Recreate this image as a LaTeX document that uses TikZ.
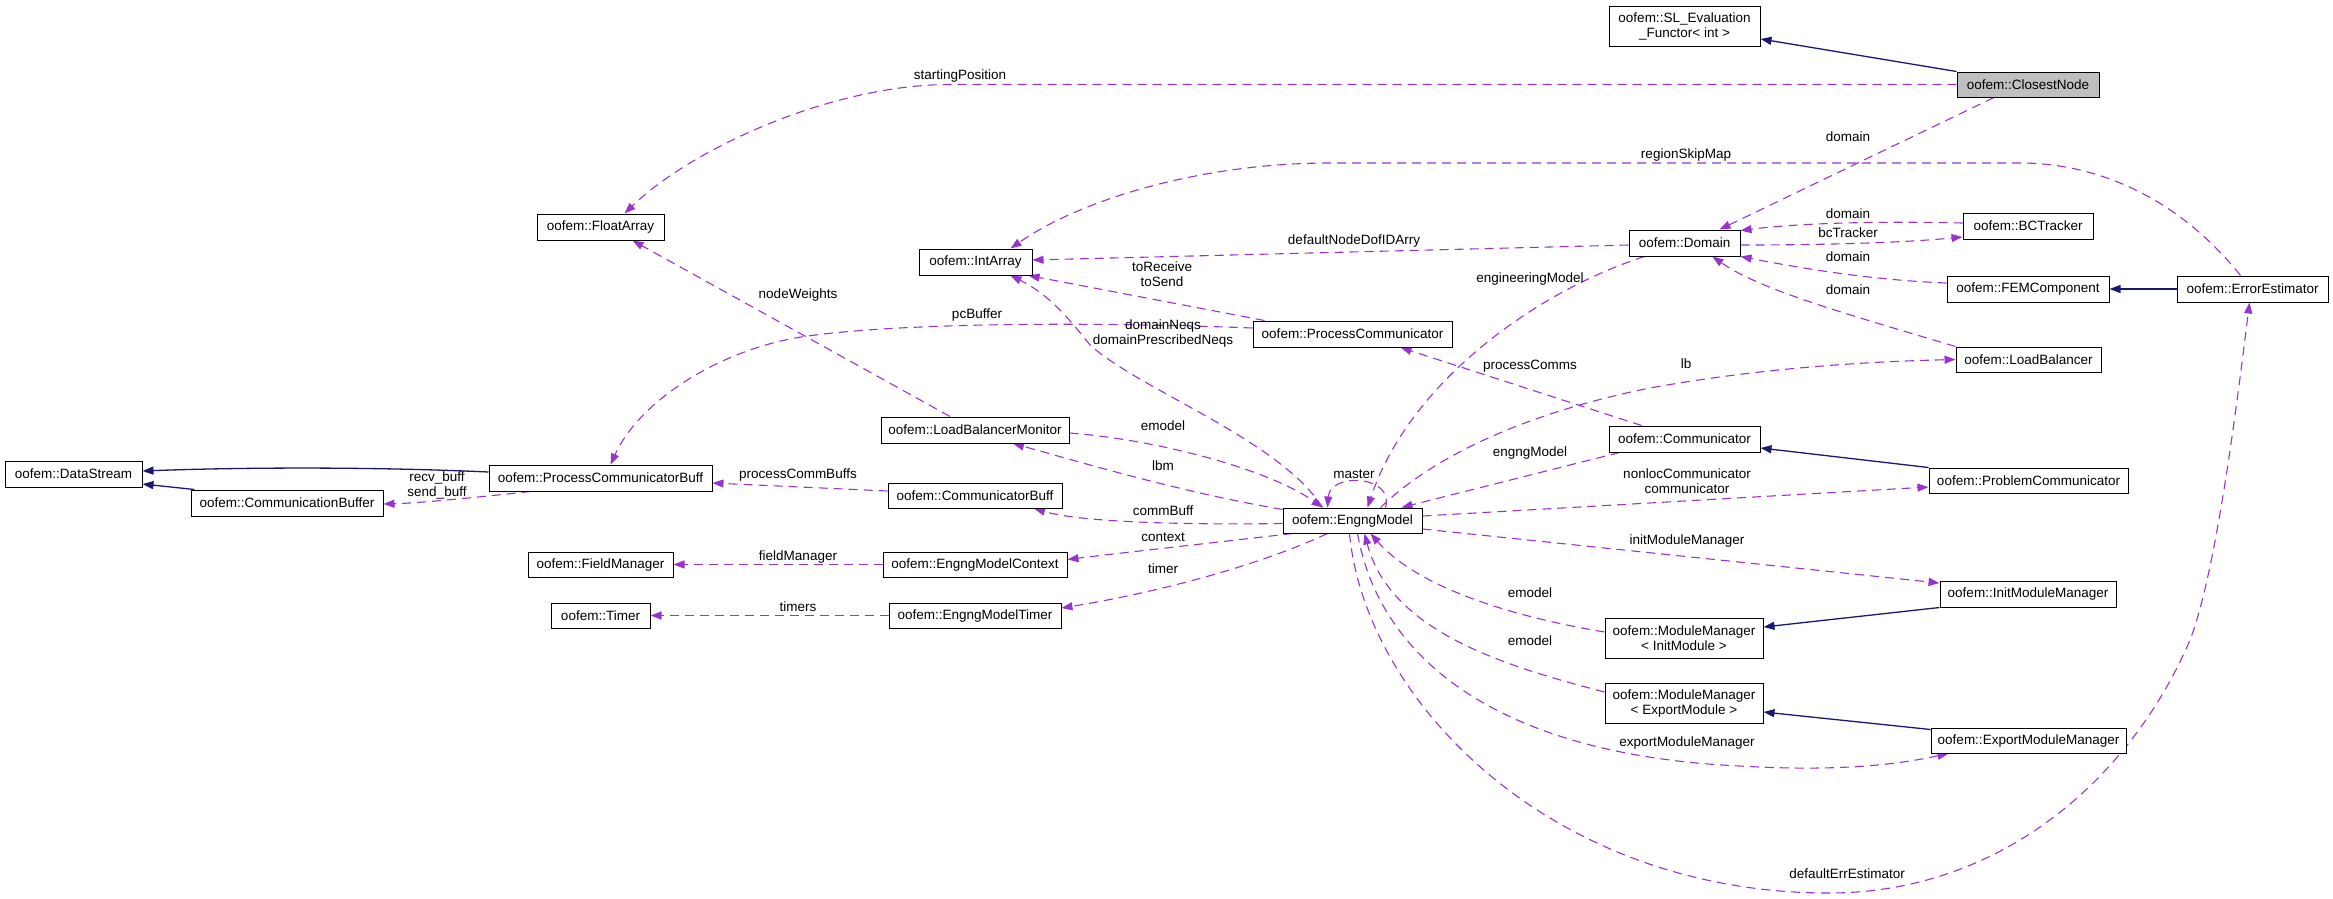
\documentclass[tikz,border=0pt]{standalone}
\usepackage{fontspec}
\setmainfont{Liberation Sans}
\usetikzlibrary{arrows.meta}
\definecolor{navy}{HTML}{191970}
\definecolor{orch}{HTML}{9A32CD}
\definecolor{boxgray}{HTML}{BFBFBF}
\pgfdeclarelayer{bg}
\pgfsetlayers{bg,main}
\begin{document}
\begin{tikzpicture}[x=1pt,y=-1pt,
  cls/.style={draw=black, line width=1pt, rectangle, inner sep=0pt, align=center, font=\fontsize{13.5}{15}\selectfont, fill=white, minimum height=26pt},
  inh/.style={draw=navy, line width=1.3pt, -{Triangle[length=11pt,width=8pt]}},
  use/.style={draw=orch, line width=1.1pt, dash pattern=on 9pt off 6pt, -{Triangle[length=11pt,width=8pt]}},
  lbl/.style={font=\fontsize{13.5}{15}\selectfont, align=center, inner sep=0pt}
]
\useasboundingbox (0,0) rectangle (2333,898);

% classes
\node[cls, minimum width=151pt, minimum height=40pt] (SLF) at (1684.5,26) {oofem::SL\_Evaluation\\\_Functor< int >};
\node[cls, fill=boxgray, minimum width=142pt, minimum height=25pt] (CN) at (2028,84.5) {oofem::ClosestNode};
\node[cls, minimum width=127pt] (FA) at (600.5,227) {oofem::FloatArray};
\node[cls, minimum width=113pt] (IA) at (975.5,262) {oofem::IntArray};
\node[cls, minimum width=111pt] (DOM) at (1684.5,243) {oofem::Domain};
\node[cls, minimum width=130pt] (BCT) at (2028,226) {oofem::BCTracker};
\node[cls, minimum width=162pt] (FEM) at (2028,289) {oofem::FEMComponent};
\node[cls, minimum width=151pt] (EE) at (2252.5,289) {oofem::ErrorEstimator};
\node[cls, minimum width=199pt] (PC) at (1352.5,334) {oofem::ProcessCommunicator};
\node[cls, minimum width=145pt, minimum height=25pt] (LB) at (2028.5,359.5) {oofem::LoadBalancer};
\node[cls, minimum width=188pt] (LBM) at (975,430) {oofem::LoadBalancerMonitor};
\node[cls, minimum width=151pt] (COMM) at (1684.5,439) {oofem::Communicator};
\node[cls, minimum width=137pt] (DS) at (73.5,474) {oofem::DataStream};
\node[cls, minimum width=223pt] (PCB) at (600.5,478) {oofem::ProcessCommunicatorBuff};
\node[cls, minimum width=192pt] (CB) at (287,503) {oofem::CommunicationBuffer};
\node[cls, minimum width=199pt, minimum height=25pt] (PRC) at (2028.5,480.5) {oofem::ProblemCommunicator};
\node[cls, minimum width=174pt, minimum height=25pt] (CBUF) at (975,495.5) {oofem::CommunicatorBuff};
\node[cls, minimum width=139pt, minimum height=25pt] (EM) at (1352.5,520.5) {oofem::EngngModel};
\node[cls, minimum width=145pt, minimum height=25pt] (FM) at (600.5,564.5) {oofem::FieldManager};
\node[cls, minimum width=184pt, minimum height=25pt] (EMC) at (975,564.5) {oofem::EngngModelContext};
\node[cls, minimum width=176pt] (IMM) at (2028,594) {oofem::InitModuleManager};
\node[cls, minimum width=99pt, minimum height=25pt] (T) at (600.5,615.5) {oofem::Timer};
\node[cls, minimum width=172pt, minimum height=25pt] (EMT) at (975,615.5) {oofem::EngngModelTimer};
\node[cls, minimum width=158pt, minimum height=40pt] (MMI) at (1684,638) {oofem::ModuleManager\\< InitModule >};
\node[cls, minimum width=158pt, minimum height=40pt] (MME) at (1684,703) {oofem::ModuleManager\\< ExportModule >};
\node[cls, minimum width=195pt, minimum height=25pt] (EMM) at (2028.5,740.5) {oofem::ExportModuleManager};

\begin{pgfonlayer}{bg}
% inheritance
\draw[inh] (CN.north west) -- ([yshift=-13pt]SLF.east);
\draw[inh] (EE.west) -- (FEM.east);
\draw[inh] (PRC.north west) -- ([yshift=-9pt]COMM.east);
\draw[inh] (IMM.south west) -- ([yshift=11pt]MMI.east);
\draw[inh] ([yshift=-2pt]EMM.north west) -- ([yshift=-9pt]MME.east);
\draw[inh] ([yshift=6pt]PCB.west) .. controls (380,467) and (250,467) .. ([yshift=3pt]DS.east);
\draw[inh] ([xshift=4pt]CB.north west) -- ([yshift=-10pt]DS.east);
% usage
\draw[use] (CN.west) -- (950,84.5) .. controls (830,84.5) and (690,150) .. ([xshift=24pt]FA.north);
\draw[use] ([xshift=-34pt]CN.south) -- ([xshift=35pt]DOM.north);
\draw[use] ([xshift=-12pt]EE.north) .. controls (2180,200) and (2100,163) .. (2020,163) -- (1330,163) .. controls (1200,163) and (1080,200) .. ([xshift=35pt]IA.north);
\draw[use] ([yshift=-2pt]DOM.west) -- ([yshift=2pt]IA.east);
\draw[use] ([yshift=3pt]BCT.west) .. controls (1880,221) and (1800,223) .. ([yshift=-1pt]DOM.north east);
\draw[use] ([yshift=-2pt]DOM.east) .. controls (1820,245) and (1900,243) .. ([yshift=-11pt]BCT.west);
\draw[use] ([yshift=6pt]FEM.west) .. controls (1870,280) and (1800,268) .. (DOM.south east);
\draw[use] (LB.north west) .. controls (1850,315) and (1760,290) .. ([xshift=28pt]DOM.south);
\draw[use] ([xshift=-40pt]DOM.south) .. controls (1540,290) and (1410,380) .. ([xshift=15pt]EM.north);
\draw[use] ([xshift=12pt]PC.north west) -- ([xshift=-4pt]IA.south east);
\draw[use] ([xshift=-30pt]EM.north) .. controls (1280,440) and (1140,390) .. (1090,345) .. controls (1070,320) and (1050,295) .. ([xshift=35pt]IA.south);
\draw[use] ([xshift=-25pt]LBM.north) -- ([xshift=32pt]FA.south);
\draw[use] ([yshift=6pt]PC.west) .. controls (1100,322) and (900,322) .. (801,337) .. controls (720,350) and (640,400) .. ([xshift=10pt]PCB.north);
\draw[use] ([yshift=-3pt]LBM.east) .. controls (1160,440) and (1270,470) .. ([xshift=-30pt]EM.north);
\draw[use] ([yshift=-2pt]EM.north west) .. controls (1180,492) and (1080,462) .. ([xshift=38pt]LBM.south);
\draw[use] ([yshift=-3pt]EM.west) .. controls (1180,525) and (1080,522) .. ([xshift=59pt]CBUF.south);
\draw[use] ([xshift=10pt]EM.south west) .. controls (1220,542) and (1120,553) .. ([yshift=5pt]EMC.east);
\draw[use] ([xshift=-25pt]EM.south) .. controls (1260,565) and (1160,592) .. ([yshift=7.5pt]EMT.east);
\draw[use] ([yshift=4.5pt]CBUF.west) -- ([yshift=-5pt]PCB.east);
\draw[use] (EMC.west) -- (FM.east);
\draw[use] (EMT.west) -- (T.east);
\draw[use] ([xshift=-70pt]PCB.south) .. controls (470,498) and (420,503) .. ([yshift=-1pt]CB.east);
\draw[use] ([xshift=-43pt]COMM.north) -- ([xshift=48pt]PC.south);
\draw[use] ([xshift=28pt]EM.north) .. controls (1440,450) and (1540,410) .. (1650,388) .. controls (1750,370) and (1850,362) .. (LB.west);
\draw[use] ([xshift=11pt]COMM.south west) -- ([xshift=-21pt]EM.north east);
\draw[use] ([yshift=4.5pt]EM.east) -- ([yshift=-6.5pt]PRC.west);
\draw[use] ([yshift=-8.5pt]EM.east) -- ([yshift=11pt]IMM.west);
\draw[use] ([yshift=6pt]MMI.west) .. controls (1520,618) and (1420,590) .. ([xshift=18pt]EM.south);
\draw[use] ([yshift=11pt]MME.west) .. controls (1500,665) and (1390,630) .. ([xshift=12pt]EM.south);
\draw[use] ([xshift=5pt]EM.south) .. controls (1380,660) and (1500,755) .. (1740,766) .. controls (1840,772) and (1900,764) .. ([xshift=18pt]EMM.south west);
\draw[use] ([xshift=-3pt]EM.south) .. controls (1365,700) and (1550,893) .. (1829,893) .. controls (2000,893) and (2130,780) .. (2190,640) .. controls (2215,575) and (2235,420) .. ([xshift=-3pt]EE.south);
\draw[use] ([xshift=33pt]EM.north) .. controls (1395,475) and (1330,472) .. ([xshift=-25pt]EM.north);
\end{pgfonlayer}

% labels
\node[lbl] (t1) at (960,76) {startingPosition};
\node[lbl] (t2) at (1848,137) {domain};
\node[lbl] (t3) at (1686,155) {regionSkipMap};
\node[lbl] (t4) at (1354,241) {defaultNodeDofIDArry};
\node[lbl] (t5) at (1848,214) {domain};
\node[lbl] (t6) at (1848,233) {bcTracker};
\node[lbl] (t7) at (1848,257) {domain};
\node[lbl] (t8) at (1848,290) {domain};
\node[lbl] (t9) at (1530,279) {engineeringModel};
\node[lbl] (t10) at (1162,274.5) {toReceive\\toSend};
\node[lbl] (t11) at (1163,333.5) {domainNeqs\\domainPrescribedNeqs};
\node[lbl] (t12) at (798,295) {nodeWeights};
\node[lbl] (t13) at (977,315) {pcBuffer};
\node[lbl] (t14) at (1163,426) {emodel};
\node[lbl] (t15) at (1163,466) {lbm};
\node[lbl] (t16) at (1163,511) {commBuff};
\node[lbl] (t17) at (1163,537) {context};
\node[lbl] (t18) at (1163,569) {timer};
\node[lbl] (t19) at (798,475) {processCommBuffs};
\node[lbl] (t20) at (798,557) {fieldManager};
\node[lbl] (t21) at (798,607) {timers};
\node[lbl] (t22) at (437,485) {recv\_buff\\send\_buff};
\node[lbl] (t23) at (1530,366) {processComms};
\node[lbl] (t24) at (1686,364) {lb};
\node[lbl] (t25) at (1530,453) {engngModel};
\node[lbl] (t26) at (1687,481.5) {nonlocCommunicator\\communicator};
\node[lbl] (t27) at (1687,541) {initModuleManager};
\node[lbl] (t28) at (1530,593) {emodel};
\node[lbl] (t29) at (1530,641) {emodel};
\node[lbl] (t30) at (1687,743) {exportModuleManager};
\node[lbl] (t31) at (1847,874) {defaultErrEstimator};
\node[lbl] (t32) at (1354,474) {master};
\end{tikzpicture}
\end{document}
